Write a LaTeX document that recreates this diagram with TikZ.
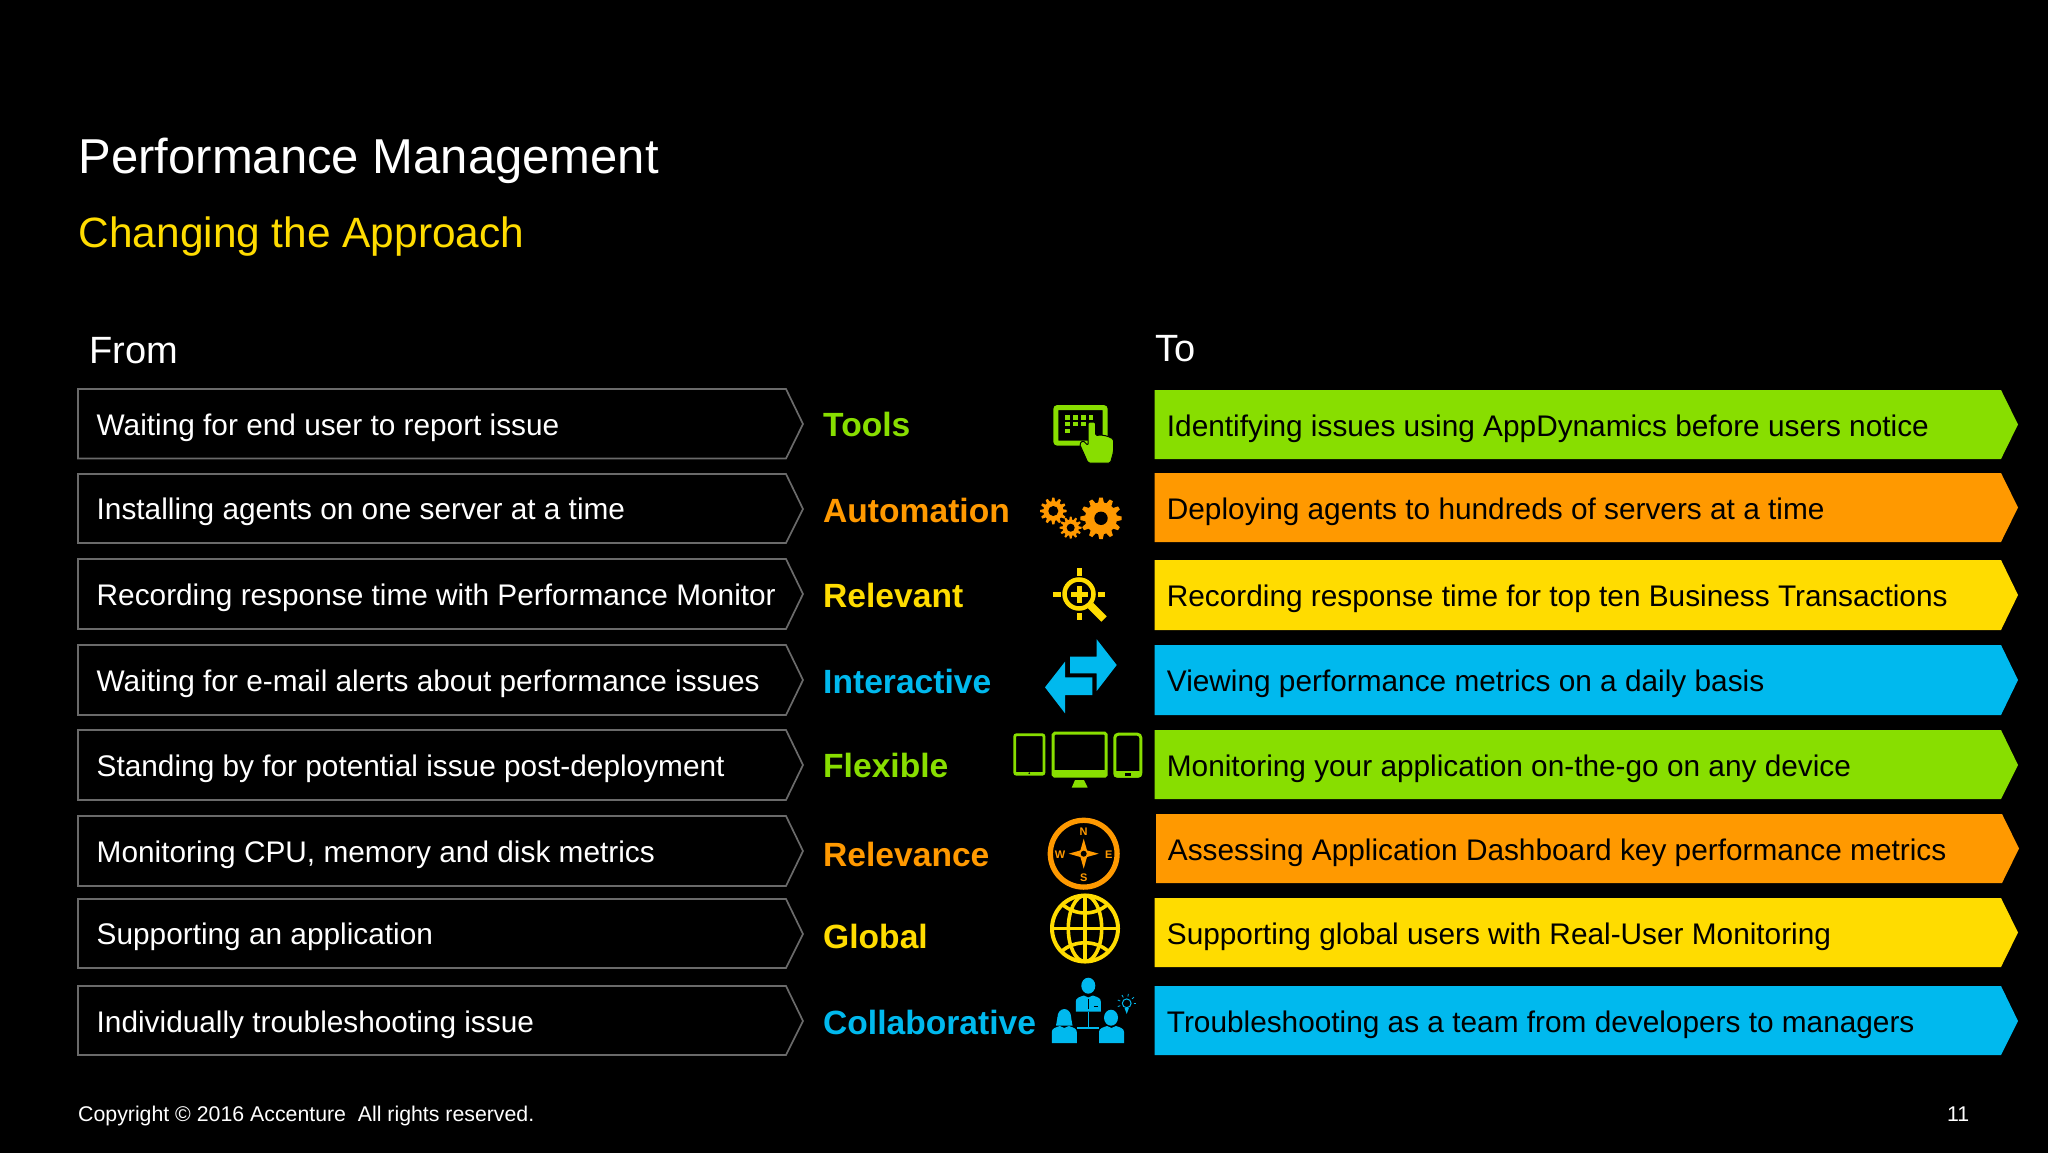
\documentclass[tikz,border=0pt]{standalone}
\usepackage{fontspec}
\setmainfont{Liberation Sans}
\definecolor{grnC}{HTML}{88DE00}
\definecolor{orgC}{HTML}{FF9900}
\definecolor{ylwC}{HTML}{FFDC00}
\definecolor{bluC}{HTML}{00B9EE}
\definecolor{edgeC}{HTML}{6A6A6A}
\tikzset{
  plain/.style={anchor=base west, inner sep=0pt, font=\fontsize{29.8}{36}\selectfont},
  fromtext/.style={plain, text=white},
  totext/.style={plain, text=black},
  headtext/.style={anchor=base west, inner sep=0pt, text=white, font=\fontsize{38}{46}\selectfont},
  lbl/.style={anchor=base west, inner sep=0pt, font=\fontsize{33.6}{40}\selectfont\bfseries},
  frombox/.style={draw=edgeC, line width=1.7pt},
  compasstext/.style={inner sep=0pt, text=orgC, font=\fontsize{11}{12}\selectfont\bfseries}
}
\newcommand{\gearicon}[5]{
  \fill[orgC] (#1,#2) circle (#4);
  \foreach \a in {0,30,...,330}
    \fill[orgC, shift={(#1,#2)}, rotate=\a] (#4-1,-0.19*#4) -- (#3,-0.11*#4) -- (#3,0.11*#4) -- (#4-1,0.19*#4) -- cycle;
  \fill[black] (#1,#2) circle (#5);
}
\newcommand{\personbody}[3]{
  \fill[bluC, shift={(#1,#2)}] (-12.5,#3) -- (-12.5,5) .. controls (-12.5,1.5) and (-9,0.5) .. (-4.5,-1) -- (0,1) -- (4.5,-1) .. controls (9,0.5) and (12.5,1.5) .. (12.5,5) -- (12.5,#3) -- cycle;
}
\begin{document}
\begin{tikzpicture}[x=1pt,y=-1pt]
\useasboundingbox (0,0) rectangle (2048,1153);
\fill[black] (0,0) rectangle (2048,1153);
% titles
\node[anchor=base west, inner sep=0pt, text=white, font=\fontsize{49}{58}\selectfont] (title) at (78.5,173.2) {Performance Management};
\node[anchor=base west, inner sep=0pt, text=ylwC, font=\fontsize{42.4}{50}\selectfont] (subtitle) at (78.5,247) {Changing the Approach};
\node[headtext] (from) at (89,363) {From};
\node[headtext] (to) at (1155,361) {To};
% from column
\draw[frombox] (78,389) -- (786,389) -- (803,424) -- (786,458.5) -- (78,458.5) -- cycle;
\node[fromtext] (from0) at (96.5,435) {Waiting for end user to report issue};
\draw[frombox] (78,474) -- (786,474) -- (803,509) -- (786,543) -- (78,543) -- cycle;
\node[fromtext] (from1) at (96.5,519.5) {Installing agents on one server at a time};
\draw[frombox] (78,559) -- (786,559) -- (803,594) -- (786,629) -- (78,629) -- cycle;
\node[fromtext] (from2) at (96.5,605) {Recording response time with Performance Monitor};
\draw[frombox] (78,645) -- (786,645) -- (803,680) -- (786,715) -- (78,715) -- cycle;
\node[fromtext] (from3) at (96.5,691) {Waiting for e-mail alerts about performance issues};
\draw[frombox] (78,730) -- (786,730) -- (803,765) -- (786,800) -- (78,800) -- cycle;
\node[fromtext] (from4) at (96.5,776) {Standing by for potential issue post-deployment};
\draw[frombox] (78,816) -- (786,816) -- (803,851) -- (786,886) -- (78,886) -- cycle;
\node[fromtext] (from5) at (96.5,862) {Monitoring CPU, memory and disk metrics};
\draw[frombox] (78,899) -- (786,899) -- (803,934) -- (786,968) -- (78,968) -- cycle;
\node[fromtext] (from6) at (96.5,944) {Supporting an application};
\draw[frombox] (78,986) -- (786,986) -- (803,1021) -- (786,1055) -- (78,1055) -- cycle;
\node[fromtext] (from7) at (96.5,1032) {Individually troubleshooting issue};
% middle labels
\node[lbl, text=grnC] (lbl0) at (823,436) {Tools};
\node[lbl, text=orgC] (lbl1) at (823,522) {Automation};
\node[lbl, text=ylwC] (lbl2) at (823,607) {Relevant};
\node[lbl, text=bluC] (lbl3) at (823,693) {Interactive};
\node[lbl, text=grnC] (lbl4) at (823,777) {Flexible};
\node[lbl, text=orgC] (lbl5) at (823,866) {Relevance};
\node[lbl, text=ylwC] (lbl6) at (823,948) {Global};
\node[lbl, text=bluC] (lbl7) at (823,1034) {Collaborative};
% to column
\fill[grnC] (1154.5,390) -- (2001,390) -- (2018,424.5) -- (2001,459) -- (1154.5,459) -- cycle;
\node[totext] (to0) at (1166.7,436) {Identifying issues using AppDynamics before users notice};
\fill[orgC] (1154.5,473) -- (2001,473) -- (2018,507.5) -- (2001,542) -- (1154.5,542) -- cycle;
\node[totext] (to1) at (1166.7,519) {Deploying agents to hundreds of servers at a time};
\fill[ylwC] (1154.5,560) -- (2001,560) -- (2018,595) -- (2001,630) -- (1154.5,630) -- cycle;
\node[totext] (to2) at (1166.7,606) {Recording response time for top ten Business Transactions};
\fill[bluC] (1154.5,645) -- (2001,645) -- (2018,680) -- (2001,715) -- (1154.5,715) -- cycle;
\node[totext] (to3) at (1166.7,691) {Viewing performance metrics on a daily basis};
\fill[grnC] (1154.5,730) -- (2001,730) -- (2018,765) -- (2001,799) -- (1154.5,799) -- cycle;
\node[totext] (to4) at (1166.7,776) {Monitoring your application on-the-go on any device};
\fill[orgC] (1156,814) -- (2002,814) -- (2019,848.5) -- (2002,883) -- (1156,883) -- cycle;
\node[totext] (to5) at (1167.7,860) {Assessing Application Dashboard key performance metrics};
\fill[ylwC] (1154.5,898) -- (2001,898) -- (2018,932.5) -- (2001,967) -- (1154.5,967) -- cycle;
\node[totext] (to6) at (1166.7,944) {Supporting global users with Real-User Monitoring};
\fill[bluC] (1154.5,986) -- (2001,986) -- (2018,1021) -- (2001,1055) -- (1154.5,1055) -- cycle;
\node[totext] (to7) at (1166.7,1032.5) {Troubleshooting as a team from developers to managers};
% tablet icon
\draw[grnC, line width=5pt, rounded corners=2pt] (1055.8,407.5) rectangle (1105.2,443.2);
\foreach \kx/\ky in {1067.7/417.3,1075.7/417.3,1083.3/417.3,1091/417.3,1067.7/424,1075.7/424,1083.3/424,1067.7/431}
  \fill[grnC] (\kx-2.3,\ky-2.3) rectangle (\kx+2.3,\ky+2.3);
\filldraw[grnC, draw=black, line width=1pt, rounded corners=1.5pt] (1088,422) -- (1095.5,422) -- (1095.5,435.5) -- (1101,435) -- (1107,436) -- (1113.5,439) -- (1113.5,452) -- (1110.5,463) -- (1088,463) -- (1079.5,444) -- (1083,440.5) -- (1088,445.5) -- cycle;
% gears icon
\gearicon{1101}{518.3}{20.7}{16}{6.7}
\gearicon{1053.3}{511}{13.3}{10}{5}
\gearicon{1070.7}{527.7}{11}{8.2}{4}
% magnifier icon
\draw[ylwC, line width=4.5pt] (1079,594) circle (14.5);
\fill[ylwC] (1070.5,591.5) rectangle (1087.5,596.5);
\fill[ylwC] (1076.5,585.5) rectangle (1081.5,602.5);
\fill[ylwC] (1076.5,568) rectangle (1081.5,575.7);
\fill[ylwC] (1076.5,612.7) rectangle (1081.5,620);
\fill[ylwC] (1053,591.5) rectangle (1060.7,596.5);
\fill[ylwC] (1097.7,591.5) rectangle (1105,596.5);
\draw[ylwC, line width=7.5pt] (1090.5,605.5) -- (1104,619);
% arrows icon
\fill[bluC] (1070,656.7) -- (1096.7,656.7) -- (1096.7,639.3) -- (1116.7,665) -- (1096.7,691) -- (1096.7,673.3) -- (1070,673.3) -- cycle;
\fill[bluC] (1045,687.3) -- (1065,661.7) -- (1065,677.3) -- (1092.3,677.3) -- (1092.3,695) -- (1065,695) -- (1065,713.3) -- cycle;
% devices icon
\draw[grnC, line width=2.8pt, rounded corners=2pt] (1014.7,734.7) rectangle (1044,774.3);
\fill[grnC] (1014.7,771.5) rectangle (1044,775);
\fill[black] (1029.3,773.2) circle (0.9);
\draw[grnC, line width=3pt, rounded corners=1.5pt] (1053.2,733.2) rectangle (1106.2,776.2);
\fill[grnC] (1053.2,770) rectangle (1106.2,776.2);
\fill[grnC] (1075,780) -- (1084,780) -- (1087.7,787.7) -- (1071.7,787.7) -- cycle;
\draw[grnC, line width=3pt, rounded corners=3.5pt] (1114.8,734.2) rectangle (1140.8,776.2);
\fill[grnC, rounded corners=3pt] (1113.5,771) rectangle (1142,777.5);
\fill[black] (1125,773) rectangle (1131,775.5);
% compass icon
\draw[orgC, line width=5.3pt] (1083.7,853.7) circle (33.4);
\fill[orgC] (1098.7,853.7) -- (1087,857) -- (1083.7,868.7) -- (1080.4,857) -- (1068.7,853.7) -- (1080.4,850.4) -- (1083.7,838.7) -- (1087,850.4) -- cycle;
\fill[black] (1083.7,853.7) circle (3);
\node[compasstext] (north) at (1083.7,831.7) {N};
\node[compasstext] (east) at (1108.7,854.5) {E};
\node[compasstext] (south) at (1083.7,877.3) {S};
\node[compasstext] (west) at (1060,854.5) {W};
% globe icon
\draw[ylwC, line width=4pt] (1085,928.5) circle (33);
\draw[ylwC, line width=3.6pt] (1085,928.5) ellipse (16.7 and 33);
\draw[ylwC, line width=3.6pt] (1085,895.5) -- (1085,961.5);
\draw[ylwC, line width=3.6pt] (1052,928.5) -- (1118,928.5);
\draw[ylwC, line width=3.6pt] (1062,904) .. controls (1075,916) and (1095,916) .. (1108,904);
\draw[ylwC, line width=3.6pt] (1062,951) .. controls (1075,940) and (1095,940) .. (1108,951);
% team icon
\fill[bluC] (1088.3,985.7) ellipse (7 and 8);
\personbody{1088.3}{996.5}{15}
\fill[black] (1087.9,999) rectangle (1088.7,1009);
\fill[black] (1094,1006) rectangle (1098,1007);
\fill[bluC] (1064.3,1017) ellipse (6.8 and 8);
\fill[bluC] (1057.5,1017) -- (1056,1025.5) -- (1072.5,1025.5) -- (1071,1017) -- cycle;
\personbody{1064.3}{1027}{16}
\fill[bluC] (1111,1017.7) ellipse (7 and 8);
\personbody{1111.5}{1027}{16}
\draw[bluC, line width=1.6pt] (1088.3,1012) -- (1088.3,1028);
\draw[bluC, line width=1.6pt] (1077.3,1028) -- (1099.3,1028);
\draw[bluC, line width=1pt] (1126.7,1003.3) circle (4.4);
\fill[bluC] (1124.5,1008) -- (1128.9,1008) -- (1126.7,1014) -- cycle;
\foreach \r in {-200,-160,...,20}
  \draw[bluC, line width=0.8pt] ({1126.7+6.8*cos(\r)},{1003.3+6.8*sin(\r)}) -- ({1126.7+9.5*cos(\r)},{1003.3+9.5*sin(\r)});
% footer
\node[anchor=base west, inner sep=0pt, text=white, font=\fontsize{21.3}{26}\selectfont] (copyright) at (78,1121.5) {Copyright © 2016 Accenture\ \ All rights reserved.};
\node[anchor=base west, inner sep=0pt, text=white, font=\fontsize{21.3}{26}\selectfont] (pagenum) at (1947,1121.5) {11};
\end{tikzpicture}
\end{document}
